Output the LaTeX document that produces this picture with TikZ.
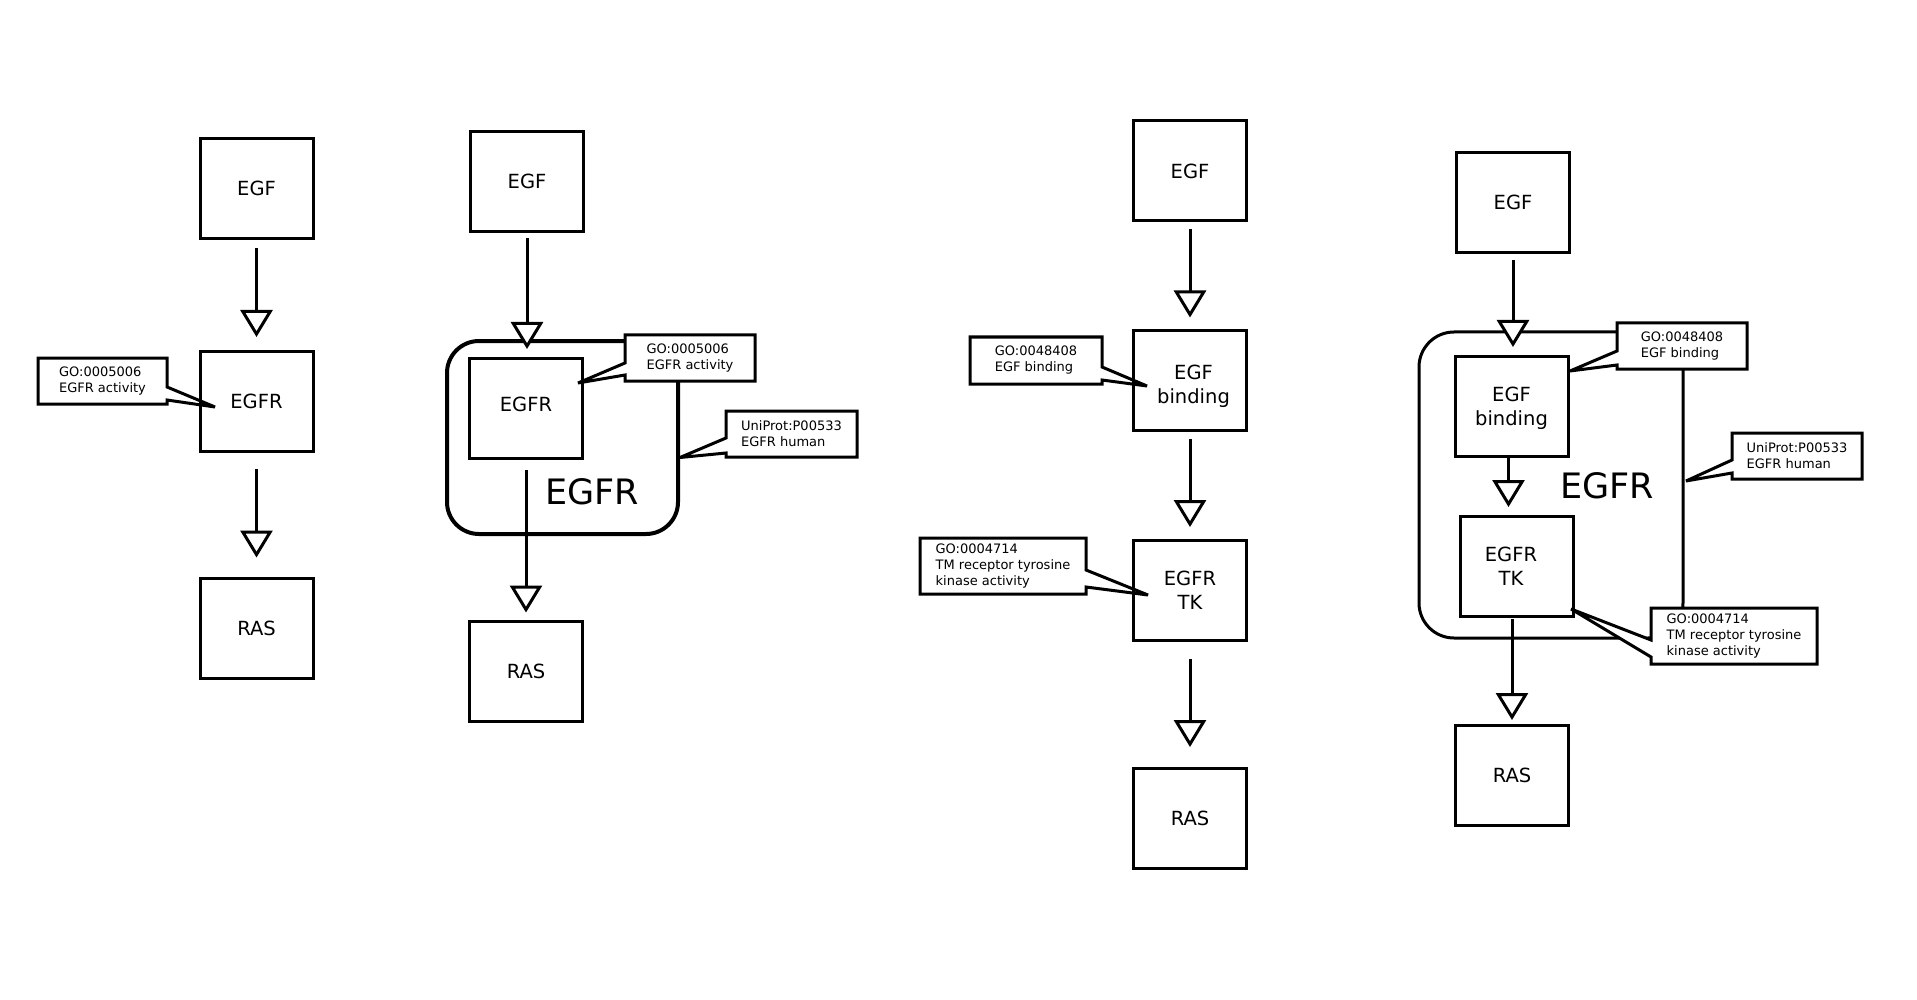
\documentclass[tikz,border=0pt]{standalone}
\usepackage{fontspec}
\setmainfont{DejaVu Sans}
\usetikzlibrary{arrows.meta,calc}
\pgfdeclarelayer{back}
\pgfdeclarelayer{mid}
\pgfsetlayers{back,mid,main}

\begin{document}
\begin{tikzpicture}[x=1pt,y=-1pt,
  entity/.style={draw, line width=3pt, minimum width=113pt, minimum height=100pt,
    inner sep=0pt, outer sep=0pt, align=center, font=\fontsize{19.5}{24}\selectfont},
  flow/.style={line width=3pt, -{Triangle[length=27pt,width=32pt,fill=white]}},
  note/.style={inner sep=0pt, outer sep=0pt, anchor=north west, align=left,
    font=\fontsize{13}{16}\selectfont},
  noteline/.style={draw, fill=white, line width=3pt, miter limit=2},
  group/.style={draw, line width=3pt, rounded corners=35pt, inner sep=0pt, outer sep=0pt},
  biglabel/.style={font=\fontsize{35}{42}\selectfont}
]
\useasboundingbox (0,0) rectangle (1917,1000);
\begin{pgfonlayer}{back}
  \fill[white] (0,0) rectangle (1917,1000);
  % protein outlines enclosing the domains
  \node[group, minimum width=231pt, minimum height=193pt, line width=4pt,
        rounded corners=32pt] (grp2) at (562.5,437.5) {};
  \node[group, minimum width=264pt, minimum height=306pt] (grp4) at (1551,485) {};
\end{pgfonlayer}

% ---- first pathway: plain chain ----
\node[entity] (egf1)  at (256.5,188.5) {EGF};
\node[entity] (egfr1) at (256.5,401)   {EGFR};
\node[entity] (ras1)  at (256.5,628.5) {RAS};
\draw[flow, shorten <=10pt, shorten >=14pt] (egf1.south) -- (egf1.south |- egfr1.north);
\draw[flow, shorten <=18pt, shorten >=21pt] (egfr1.south) -- (egfr1.south |- ras1.north);

% ---- second pathway: EGFR inside its protein ----
\node[entity] (egf2)  at (527,181.5) {EGF};
\node[entity, text depth=7pt] (egfr2) at (526,408) {EGFR};
\node[entity] (ras2)  at (526,671.5) {RAS};
\node[biglabel] (lab2) at (592,492) {EGFR};
\draw[flow, shorten <=7pt, shorten >=9pt] (egf2.south) -- (egf2.south |- egfr2.north);
\draw[flow, shorten <=12pt, shorten >=9pt] (egfr2.south) -- (egfr2.south |- ras2.north);

% ---- third pathway: two functions ----
\node[entity] (egf3)  at (1190,171)   {EGF};
\node[entity, text height=50pt] (bind3) at (1190,380.5) {\hspace*{7pt}EGF\\\hspace*{7pt}binding};
\node[entity] (tk3)   at (1190,590)   {EGFR\\TK};
\node[entity] (ras3)  at (1190,818)   {RAS};
\draw[flow, shorten <=8pt, shorten >=13pt] (egf3.south) -- (egf3.south |- bind3.north);
\draw[flow, shorten <=8.5pt, shorten >=13pt] (bind3.south) -- (bind3.south |- tk3.north);
\draw[flow, shorten <=19pt, shorten >=21pt] (tk3.south) -- (tk3.south |- ras3.north);

% ---- fourth pathway: two functions inside the protein ----
\node[entity] (egf4)  at (1513,202.5) {EGF};
\node[entity, text height=44pt] (bind4) at (1511.5,406) {EGF\\binding};
\node[entity] (tk4)   at (1517,566)   {EGFR\hspace*{12pt}\\TK\hspace*{12pt}};
\node[entity] (ras4)  at (1512,775.5) {RAS};
\node[biglabel] (lab4) at (1607,486) {EGFR};
\coordinate (b4s) at ([xshift=-3pt]bind4.south);
\draw[flow, shorten <=7.5pt, shorten >=9pt] (egf4.south) -- (egf4.south |- bind4.north);
\draw[flow, shorten <=1pt, shorten >=9pt] (b4s) -- (b4s |- tk4.north);
\draw[flow, shorten <=3pt, shorten >=5.5pt] (ras4.north |- tk4.south) -- (ras4.north);

% ---- annotation callouts ----
\node[note, minimum width=129pt, minimum height=46pt] (go1) at (38,358) {GO:0005006\\EGFR activity};
\node[note, minimum width=130pt, minimum height=46pt] (go2) at (625,335) {GO:0005006\\EGFR activity};
\node[note, minimum width=131pt, minimum height=46pt] (up2) at (726,411) {UniProt:P00533\\EGFR human};
\node[note, minimum width=132pt, minimum height=47pt] (gob3) at (970,337) {GO:0048408\\EGF binding};
\node[note, minimum width=166pt, minimum height=56pt] (gok3) at (920,538) {GO:0004714\\TM receptor tyrosine\\kinase activity};
\node[note, minimum width=130pt, minimum height=46pt] (gob4) at (1617,323) {GO:0048408\\EGF binding};
\node[note, minimum width=130pt, minimum height=46pt] (up4) at (1732,433) {UniProt:P00533\\EGFR human};
\node[note, minimum width=166pt, minimum height=56pt] (gok4) at (1651,608) {GO:0004714\\TM receptor tyrosine\\kinase activity};

\coordinate (go1tip)  at ($(egfr1.center)+(-41.5,6)$);
\coordinate (go2tip)  at ($(egfr2.center)+(52,-25)$);
\coordinate (up2tip)  at ($(grp2.east)+(2,20)$);
\coordinate (gob3tip) at ($(bind3.center)+(-43,5.5)$);
\coordinate (gok3tip) at ($(tk3.center)+(-42,5)$);
\coordinate (gob4tip) at ($(bind4.north east)+(2,15)$);
\coordinate (up4tip)  at ($(grp4.east)+(3,-4)$);
\coordinate (gok4tip) at ($(tk4.south east)+(-2.5,-7)$);

\begin{pgfonlayer}{mid}
  % pointer on the right side
  \path[noteline] (go1.north west) -- (go1.north east) -- ($(go1.north east)+(0,29)$)
    -- (go1tip) -- ($(go1.north east)+(0,42)$) -- (go1.south east) -- (go1.south west) -- cycle;
  \path[noteline] (gob3.north west) -- (gob3.north east) -- ($(gob3.north east)+(0,30)$)
    -- (gob3tip) -- ($(gob3.north east)+(0,43)$) -- (gob3.south east) -- (gob3.south west) -- cycle;
  \path[noteline] (gok3.north west) -- (gok3.north east) -- ($(gok3.north east)+(0,32)$)
    -- (gok3tip) -- ($(gok3.north east)+(0,49)$) -- (gok3.south east) -- (gok3.south west) -- cycle;
  % pointer on the left side
  \path[noteline] (go2.north west) -- (go2.north east) -- (go2.south east) -- (go2.south west)
    -- ($(go2.north west)+(0,40)$) -- (go2tip) -- ($(go2.north west)+(0,28)$) -- cycle;
  \path[noteline] (up2.north west) -- (up2.north east) -- (up2.south east) -- (up2.south west)
    -- ($(up2.north west)+(0,42)$) -- (up2tip) -- ($(up2.north west)+(0,27)$) -- cycle;
  \path[noteline] (gob4.north west) -- (gob4.north east) -- (gob4.south east) -- (gob4.south west)
    -- ($(gob4.north west)+(0,42)$) -- (gob4tip) -- ($(gob4.north west)+(0,28)$) -- cycle;
  \path[noteline] (up4.north west) -- (up4.north east) -- (up4.south east) -- (up4.south west)
    -- ($(up4.north west)+(0,40)$) -- (up4tip) -- ($(up4.north west)+(0,27)$) -- cycle;
  \path[noteline] (gok4.north west) -- (gok4.north east) -- (gok4.south east) -- (gok4.south west)
    -- ($(gok4.north west)+(0,49)$) -- (gok4tip) -- ($(gok4.north west)+(0,32)$) -- cycle;
\end{pgfonlayer}
\end{tikzpicture}
\end{document}
